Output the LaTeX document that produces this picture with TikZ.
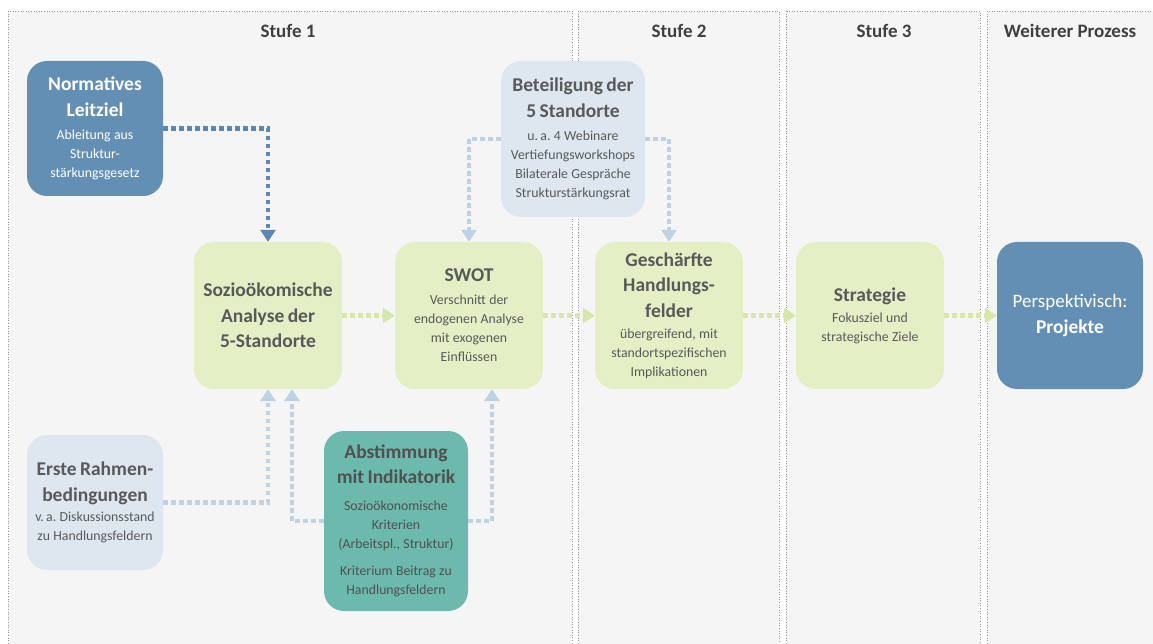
\documentclass[tikz,border=0pt]{standalone}
\usepackage{fontspec}
\setmainfont{Carlito}
\usetikzlibrary{arrows.meta}

\definecolor{panelgray}{RGB}{245,245,245}
\definecolor{panelline}{RGB}{150,150,150}
\definecolor{txtgray}{RGB}{89,89,89}
\definecolor{headgray}{RGB}{64,64,64}
\definecolor{boxblue}{RGB}{100,143,181}
\definecolor{boxpale}{RGB}{222,231,240}
\definecolor{boxgreen}{RGB}{228,239,198}
\definecolor{boxteal}{RGB}{108,185,174}
\definecolor{arrblue}{RGB}{90,136,179}
\definecolor{arrpale}{RGB}{191,210,228}
\definecolor{arrgreen}{RGB}{214,232,168}

\newcommand{\boxhead}[1]{{\fontsize{19.5}{25.5}\selectfont\bfseries #1\par}}
\newcommand{\boxbody}[2][4pt]{\vspace{#1}{\fontsize{13.8}{19}\selectfont #2\par}}

\begin{document}
\begin{tikzpicture}[x=1pt, y=-1pt,
  panel/.style={fill=panelgray, draw=panelline, line width=0.6pt, dotted},
  head/.style={font=\fontsize{19}{22}\selectfont\bfseries, text=headgray},
  box/.style={rounded corners=20pt, inner sep=0pt, align=center, text=txtgray},
  bluebox/.style={box, fill=boxblue, text=white},
  palebox/.style={box, fill=boxpale},
  greenbox/.style={box, fill=boxgreen},
  tealbox/.style={box, fill=boxteal, text=txtgray!90!black},
  flow/.style={line width=4.5pt, dash pattern=on 4.5pt off 3.5pt,
    -{Triangle[width=15pt, length=12pt]}},
  blueflow/.style={flow, draw=arrblue},
  paleflow/.style={flow, draw=arrpale},
  greenflow/.style={flow, draw=arrgreen}]
\useasboundingbox (0,0) rectangle (1153,644);
\fill[white] (0,0) rectangle (1153,644);

% stages
\draw[panel] (8,11) rectangle (572,660);
\draw[panel] (578,11) rectangle (779,660);
\draw[panel] (786,11) rectangle (980,660);
\draw[panel] (987,11) rectangle (1170,660);
\node[head] (head1) at (288,31) {Stufe 1};
\node[head] (head2) at (679,31) {Stufe 2};
\node[head] (head3) at (884,31) {Stufe 3};
\node[head] (head4) at (1070,31) {Weiterer Prozess};

% boxes
\node[bluebox, minimum width=136pt, minimum height=135pt, text width=132pt] (leit) at (95,128.5)
  {\boxhead{Normatives\\Leitziel}\boxbody{Ableitung aus\\Struktur-\\stärkungsgesetz}};
\node[palebox, minimum width=144pt, minimum height=156pt, text width=140pt] (bet) at (573,139)
  {\boxhead{Beteiligung der\\5 Standorte}\boxbody{u.\,a.\ 4 Webinare\\Vertiefungsworkshops\\Bilaterale Gespräche\\Strukturstärkungsrat}};
\node[greenbox, minimum width=148pt, minimum height=147pt, text width=144pt] (ana) at (268,315.5)
  {\boxhead{Sozioökomische\\Analyse der\\5-Standorte}};
\node[greenbox, minimum width=148pt, minimum height=147pt, text width=144pt] (swot) at (469,315.5)
  {\boxhead{SWOT}\boxbody{Verschnitt der\\endogenen Analyse\\mit exogenen\\Einflüssen}};
\node[greenbox, minimum width=148pt, minimum height=147pt, text width=144pt] (gesch) at (669,315.5)
  {\boxhead{Geschärfte\\Handlungs-\\felder}\boxbody[2pt]{übergreifend, mit\\standortspezifischen\\Implikationen}};
\node[greenbox, minimum width=148pt, minimum height=147pt, text width=144pt] (strat) at (870,315.5)
  {\boxhead{Strategie}\boxbody[2pt]{Fokusziel und\\strategische Ziele}};
\node[bluebox, minimum width=146pt, minimum height=147pt, text width=142pt] (proj) at (1070,315.5)
  {{\fontsize{19}{26}\selectfont Perspektivisch:\par}\boxhead{Projekte}};
\node[palebox, minimum width=136pt, minimum height=135pt, text width=134pt] (erste) at (95,502.5)
  {\boxhead{Erste Rahmen-\\bedingungen}\boxbody[1pt]{v.\,a.\ Diskussionsstand\\zu Handlungsfeldern}};
\node[tealbox, minimum width=144pt, minimum height=180pt, text width=140pt] (abst) at (396,521)
  {\boxhead{Abstimmung\\mit Indikatorik}\boxbody[8pt]{Sozioökonomische\\Kriterien\\(Arbeitspl., Struktur)}\boxbody[8pt]{Kriterium Beitrag zu\\Handlungsfeldern}};

% connectors
\draw[blueflow] (leit.east) -| (ana.north);
\draw[paleflow] (bet.west) -| (swot.north);
\draw[paleflow] (bet.east) -| (gesch.north);
\draw[greenflow] (ana.east) -- (swot.west);
\draw[greenflow] (swot.east) -- (gesch.west);
\draw[greenflow] (gesch.east) -- (strat.west);
\draw[greenflow] (strat.east) -- (proj.west);
\draw[paleflow] (erste.east) -| (ana.south);
\draw[paleflow] (abst.west) -| ([xshift=24pt]ana.south);
\draw[paleflow] (abst.east) -| ([xshift=23pt]swot.south);
\end{tikzpicture}
\end{document}
